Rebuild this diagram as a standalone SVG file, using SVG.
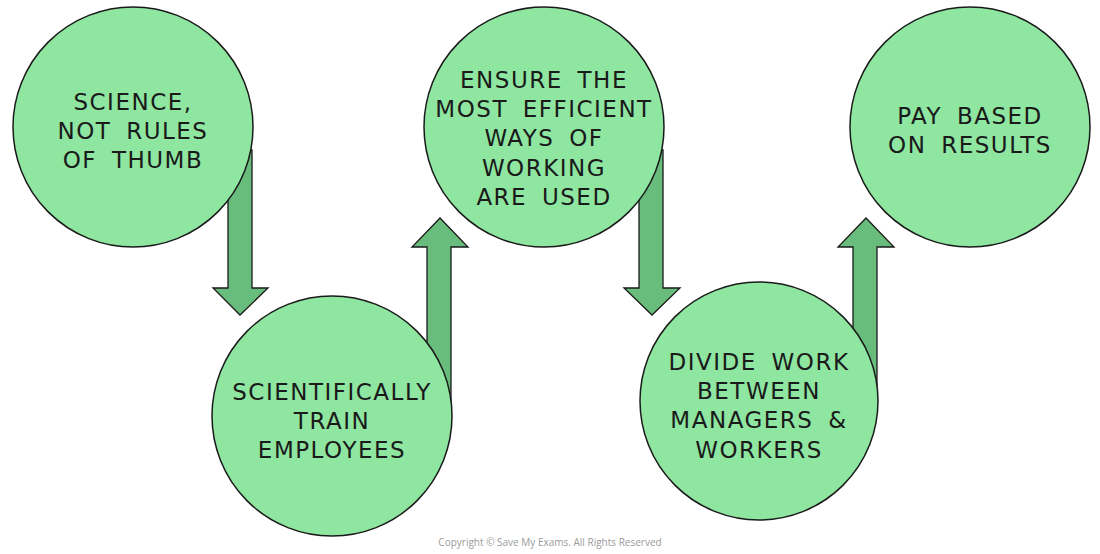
<svg xmlns="http://www.w3.org/2000/svg" width="1100" height="554" viewBox="0 0 1100 554">
<style>
.c{fill:#8ee6a1;stroke:#1a1a1a;stroke-width:1.5}
.a{fill:#69bd7c;stroke:#1a1a1a;stroke-width:1.3;stroke-linejoin:miter}
.t{font-family:"DejaVu Sans",sans-serif;font-size:23px;fill:#1a1a1a;text-anchor:middle;letter-spacing:1.5px;word-spacing:6px}
.cp{font-family:"Open Sans",sans-serif;font-size:10px;fill:#9a9a9a;text-anchor:middle}
</style>
<rect width="1100" height="554" fill="#fff"/>
<g id="connectors">
<polygon class="a" points="228,150 252,150 252,288 268,288 240,315 213,288 228,288"/>
<polygon class="a" points="427,410 451,410 451,247 468,247 440,218 412,247 427,247"/>
<polygon class="a" points="639,150 663,150 663,288 680,288 652,315 624,288 639,288"/>
<polygon class="a" points="853,400 877,400 877,247 894,247 866,218 838,247 853,247"/>
</g>
<g id="n1"><circle class="c" cx="133" cy="127" r="120"/>
<text class="t" x="133" y="110">SCIENCE,</text><text class="t" x="133" y="139">NOT RULES</text><text class="t" x="133" y="168">OF THUMB</text></g>
<g id="n2"><circle class="c" cx="332" cy="416" r="120"/>
<text class="t" x="332" y="400">SCIENTIFICALLY</text><text class="t" x="332" y="429">TRAIN</text><text class="t" x="332" y="458">EMPLOYEES</text></g>
<g id="n3"><circle class="c" cx="544" cy="127" r="120"/>
<text class="t" x="544" y="88">ENSURE THE</text><text class="t" x="544" y="117">MOST EFFICIENT</text><text class="t" x="544" y="146">WAYS OF</text><text class="t" x="544" y="176">WORKING</text><text class="t" x="544" y="205">ARE USED</text></g>
<g id="n4"><circle class="c" cx="759" cy="401" r="119"/>
<text class="t" x="759" y="370">DIVIDE WORK</text><text class="t" x="759" y="399">BETWEEN</text><text class="t" x="759" y="428">MANAGERS &amp;</text><text class="t" x="759" y="458">WORKERS</text></g>
<g id="n5"><circle class="c" cx="970" cy="127" r="120"/>
<text class="t" x="970" y="124">PAY BASED</text><text class="t" x="970" y="153">ON RESULTS</text></g>
<text class="cp" x="550" y="546">Copyright © Save My Exams. All Rights Reserved</text>
</svg>
